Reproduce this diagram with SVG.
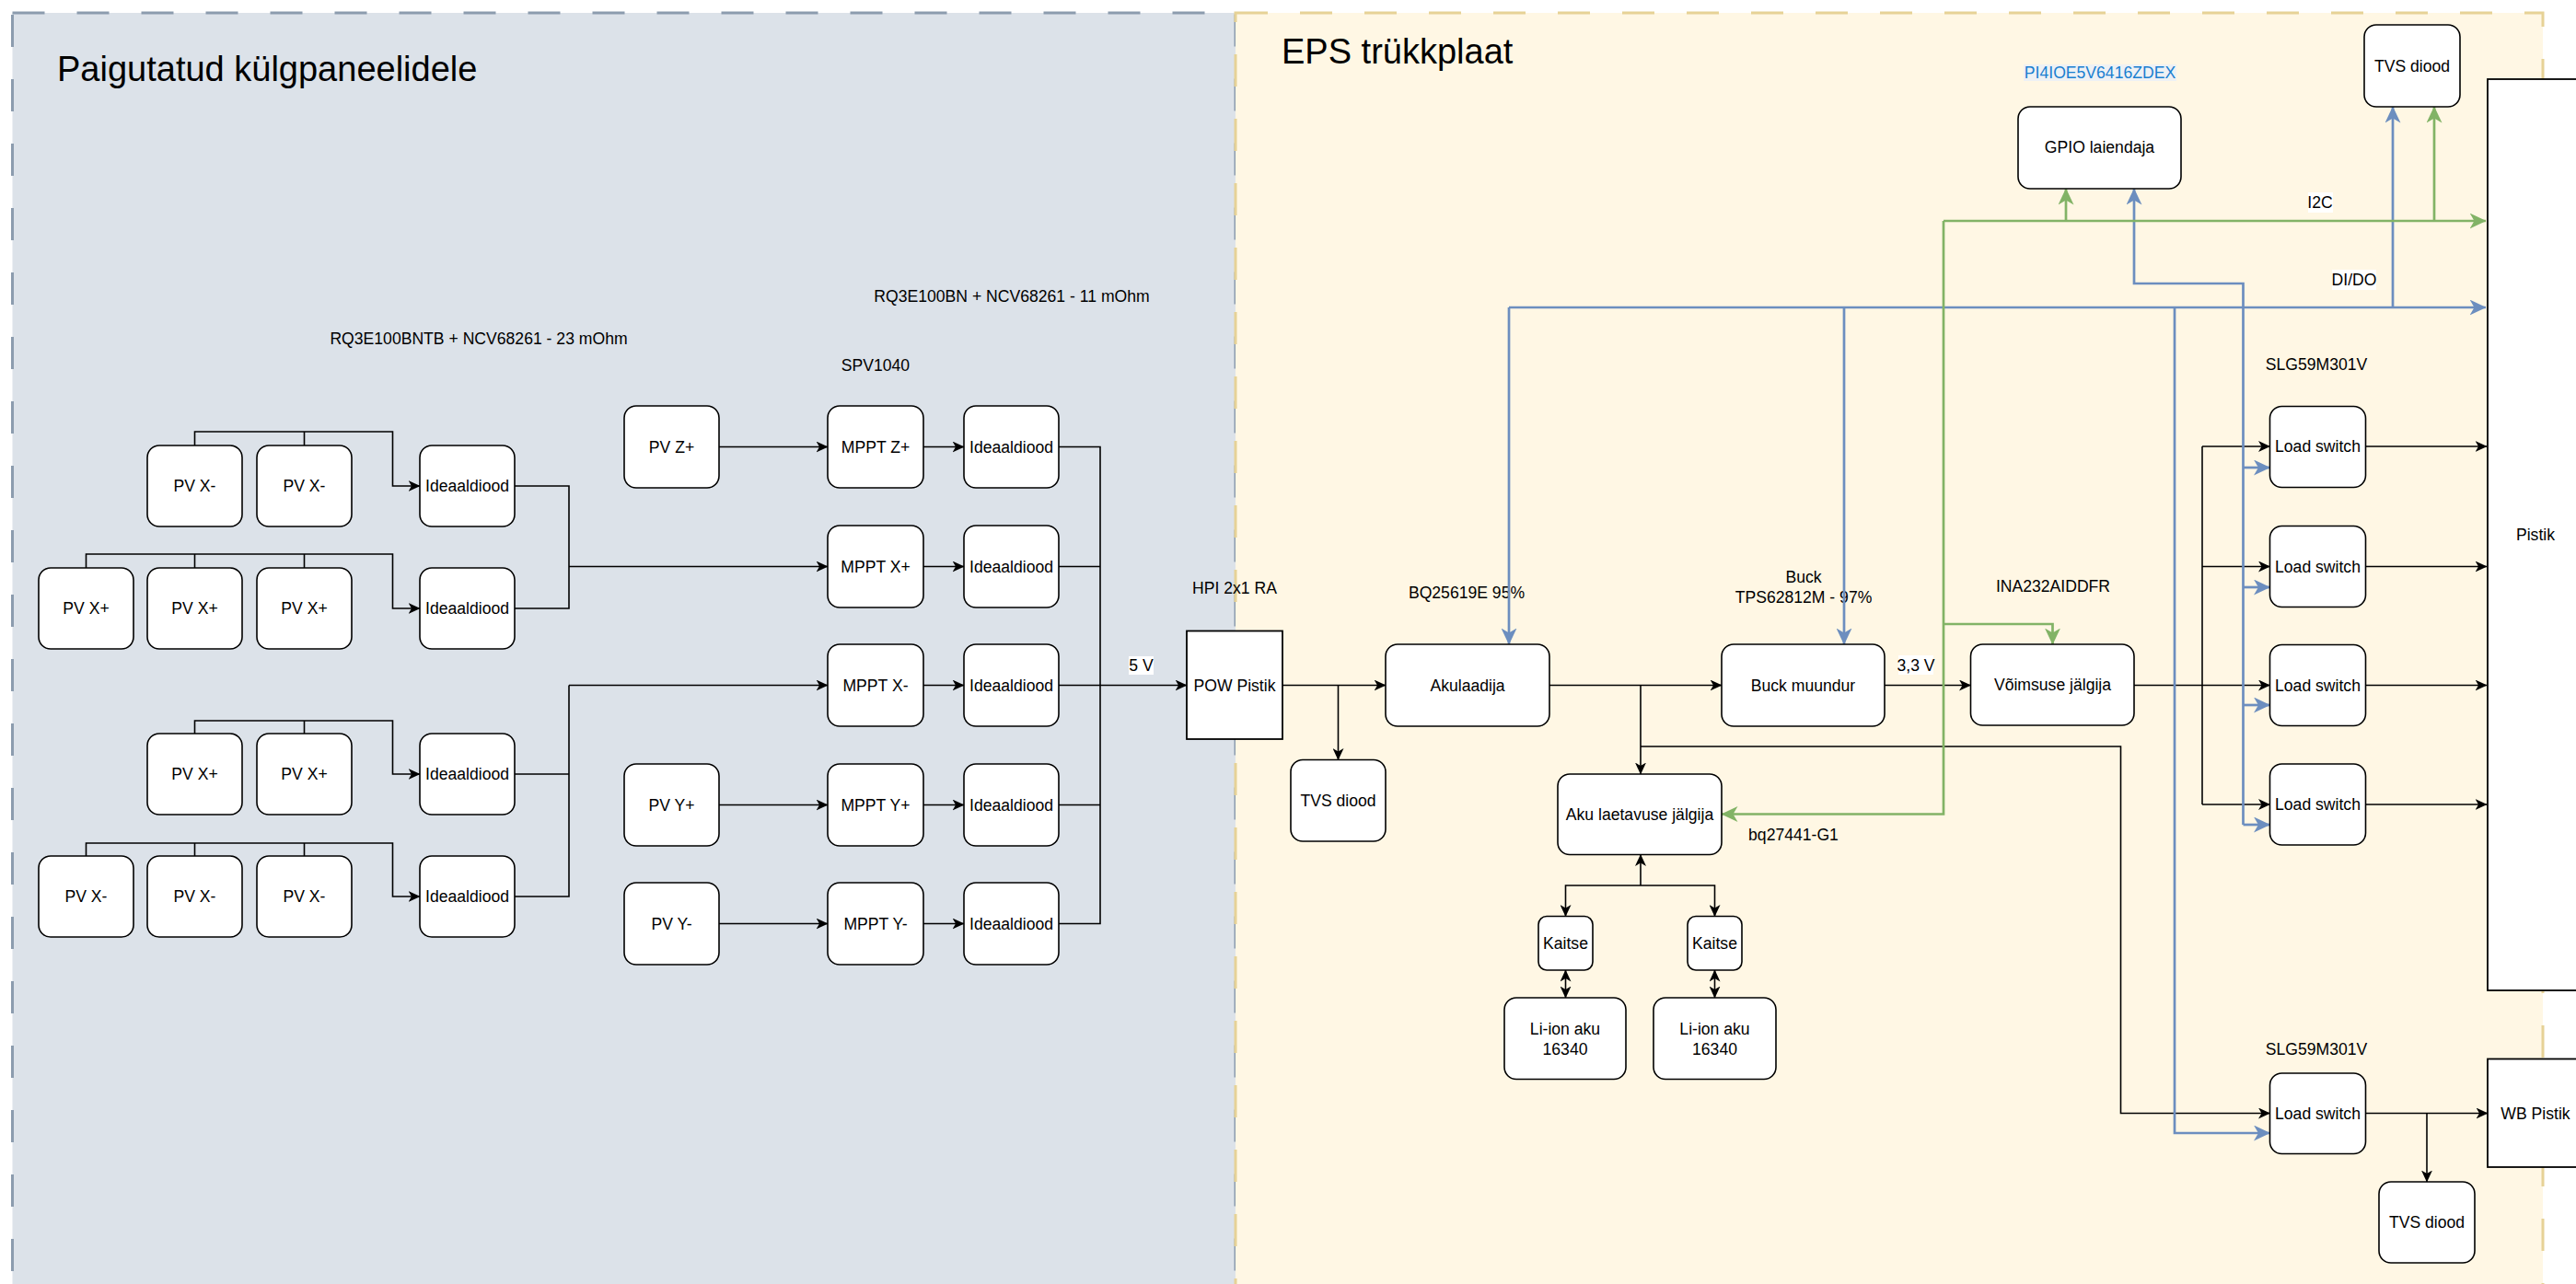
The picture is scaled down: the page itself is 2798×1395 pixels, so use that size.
<svg xmlns="http://www.w3.org/2000/svg" width="2798" height="1395" viewBox="0 0 2798 1395">
  <defs>
    <style>
      text { font-family: "Liberation Sans", Arial, sans-serif; font-size: 17.6px; fill: #000; text-anchor: middle; dominant-baseline: central; }
      .title { font-size: 38px; text-anchor: start; }
      .n { fill: #fff; stroke: #000; stroke-width: 1.6; }
      .sq { fill: #fff; stroke: #000; stroke-width: 1.8; }
      .w { fill: none; stroke: #000; stroke-width: 1.6; }
      .wa { fill: none; stroke: #000; stroke-width: 1.6; marker-end: url(#ak); }
      .bl { fill: none; stroke: #6c8ebf; stroke-width: 2.7; }
      .bla { fill: none; stroke: #6c8ebf; stroke-width: 2.7; marker-end: url(#ab); }
      .gr { fill: none; stroke: #82b366; stroke-width: 2.7; }
      .gra { fill: none; stroke: #82b366; stroke-width: 2.7; marker-end: url(#ag); }
      .lbg { fill: #fff; }
    </style>
    <marker id="ak" viewBox="0 0 13 12" refX="12.5" refY="6" markerWidth="13" markerHeight="12" markerUnits="userSpaceOnUse" orient="auto-start-reverse">
      <path d="M0,0 L13,6 L0,12 L3.5,6 Z" fill="#000"/>
    </marker>
    <marker id="ab" viewBox="0 0 18 17" refX="17.5" refY="8.5" markerWidth="18" markerHeight="17" markerUnits="userSpaceOnUse" orient="auto">
      <path d="M0,0 L18,8.5 L0,17 L5,8.5 Z" fill="#6c8ebf"/>
    </marker>
    <marker id="ag" viewBox="0 0 18 17" refX="17.5" refY="8.5" markerWidth="18" markerHeight="17" markerUnits="userSpaceOnUse" orient="auto">
      <path d="M0,0 L18,8.5 L0,17 L5,8.5 Z" fill="#82b366"/>
    </marker>
  </defs>

  <!-- containers -->
  <g id="side-panels">
    <rect x="13.5" y="14" width="1328.5" height="1420" fill="#dce2e9" stroke="#8c9cae" stroke-width="3" stroke-dasharray="35 35"/>
    <text class="title" x="62" y="75">Paigutatud külgpaneelidele</text>
  </g>
  <g id="eps-board">
    <rect x="1342" y="14" width="1420" height="1420" fill="#fff7e4" stroke="#e6d296" stroke-width="3" stroke-dasharray="35 35"/>
    <text class="title" x="1392" y="56">EPS trükkplaat</text>
  </g>

  <!-- free labels -->
  <g id="labels">
    <text x="1099" y="322">RQ3E100BN + NCV68261 - 11 mOhm</text>
    <text x="520" y="367.5">RQ3E100BNTB + NCV68261 - 23 mOhm</text>
    <text x="951" y="396.5">SPV1040</text>
    <text x="1341" y="639">HPI 2x1 RA</text>
    <text x="1593" y="644">BQ25619E 95%</text>
    <text x="1959" y="627">Buck</text>
    <text x="1959" y="648.5">TPS62812M - 97%</text>
    <text x="2230" y="637">INA232AIDDFR</text>
    <text x="2516" y="396">SLG59M301V</text>
    <text x="2516" y="1140">SLG59M301V</text>
    <text x="1948" y="906.5">bq27441-G1</text>
    <rect x="2198" y="70" width="166" height="18" fill="#eef1f4"/>
    <text x="2281" y="79" style="fill:#1a7fd0">PI4IOE5V6416ZDEX</text>
  </g>

  <!-- connectors -->
  <g id="connectors">
    <!-- panel strings to ideal diodes -->
    <path class="wa" d="M211.5,484 V469 H426.5 V528 H456"/>
    <path class="w" d="M330.5,484 V469"/>
    <path class="wa" d="M93.5,617 V602 H426.5 V661 H456"/>
    <path class="w" d="M211.5,617 V602 M330.5,617 V602"/>
    <path class="wa" d="M211.5,797 V783 H426.5 V841 H456"/>
    <path class="w" d="M330.5,797 V783"/>
    <path class="wa" d="M93.5,930 V916 H426.5 V974 H456"/>
    <path class="w" d="M211.5,930 V916 M330.5,930 V916"/>
    <!-- diode pairs to MPPT X+/X- -->
    <path class="w" d="M559,528 H618 V661 H559"/>
    <path class="wa" d="M618,615.5 H899"/>
    <path class="w" d="M559,841 H618 M559,974 H618 V744.5"/>
    <path class="wa" d="M618,744.5 H899"/>
    <!-- PV to MPPT -->
    <path class="wa" d="M781,485.5 H899"/>
    <path class="wa" d="M781,874.5 H899"/>
    <path class="wa" d="M781,1003.5 H899"/>
    <!-- MPPT to ideal diode -->
    <path class="wa" d="M1003,485.5 H1047"/>
    <path class="wa" d="M1003,615.5 H1047"/>
    <path class="wa" d="M1003,744.5 H1047"/>
    <path class="wa" d="M1003,874.5 H1047"/>
    <path class="wa" d="M1003,1003.5 H1047"/>
    <!-- 5 V collector bus -->
    <path class="w" d="M1150,485.5 H1195 V1003.5 H1150 M1150,615.5 H1195 M1150,874.5 H1195"/>
    <path class="wa" d="M1150,744.5 H1289"/>
    <rect class="lbg" x="1226" y="713" width="27" height="20"/>
    <text x="1239.5" y="723">5 V</text>

    <!-- power path on EPS -->
    <path class="wa" d="M1393,744.5 H1505"/>
    <path class="wa" d="M1453.5,744.5 V825.5"/>
    <path class="wa" d="M1683,744.5 H1870"/>
    <path class="wa" d="M1782,744.5 V841"/>
    <path class="wa" d="M1782,811 H2303.5 V1209.5 H2465.5"/>
    <path class="wa" d="M2047,744.5 H2140.5"/>
    <rect class="lbg" x="2062" y="712" width="38" height="21"/>
    <text x="2081" y="722.5">3,3 V</text>
    <path class="wa" d="M2318,744.5 H2465.5"/>
    <path class="w" d="M2392,485 V874"/>
    <path class="wa" d="M2392,485 H2465.5"/>
    <path class="wa" d="M2392,615.5 H2465.5"/>
    <path class="wa" d="M2392,874 H2465.5"/>
    <path class="wa" d="M2569.5,485 H2701"/>
    <path class="wa" d="M2569.5,615.5 H2701"/>
    <path class="wa" d="M2569.5,744.5 H2701"/>
    <path class="wa" d="M2569.5,874 H2701"/>
    <path class="wa" d="M2569.5,1209.5 H2702"/>
    <path class="wa" d="M2636,1209.5 V1284"/>
    <!-- battery branch -->
    <path class="wa" d="M1782,962 V928.5"/>
    <path class="wa" d="M1782,962 H1700.5 V995.5"/>
    <path class="wa" d="M1782,962 H1862.5 V995.5"/>
    <path class="wa" d="M1700.5,1054 V1084" marker-start="url(#ak)"/>
    <path class="wa" d="M1862.5,1054 V1084" marker-start="url(#ak)"/>

    <!-- DI/DO (blue) -->
    <path class="bla" d="M1639,334 V700"/>
    <path class="bla" d="M1639,334 H2700"/>
    <path class="bla" d="M2003,334 V700"/>
    <path class="bla" d="M2362,334 V1231 H2465.5"/>
    <path class="bla" d="M2599,334 V116"/>
    <path class="bla" d="M2436.5,896 V308 H2318 V205"/>
    <path class="bla" d="M2436.5,508 H2465.5"/>
    <path class="bla" d="M2436.5,638 H2465.5"/>
    <path class="bla" d="M2436.5,766 H2465.5"/>
    <path class="bla" d="M2436.5,896 H2465.5"/>
    <rect class="lbg" x="2533" y="293" width="48" height="22"/>
    <text x="2557" y="304">DI/DO</text>

    <!-- I2C (green) -->
    <path class="gra" d="M2111,240 H2700"/>
    <path class="gra" d="M2111,240 V884.5 H1870"/>
    <path class="gra" d="M2244,240 V205"/>
    <path class="gra" d="M2644,240 V116"/>
    <path class="gra" d="M2111,678 H2229.5 V700"/>
    <rect class="lbg" x="2507" y="209" width="27" height="22"/>
    <text x="2520" y="220">I2C</text>
  </g>

  <!-- side panel nodes -->
  <g id="pv-xm-1a"><rect class="n" x="160" y="484" width="103" height="88" rx="13"/><text x="211.5" y="528">PV X-</text></g>
  <g id="pv-xm-1b"><rect class="n" x="279" y="484" width="103" height="88" rx="13"/><text x="330.5" y="528">PV X-</text></g>
  <g id="ideal-1"><rect class="n" x="456" y="484" width="103" height="88" rx="13"/><text x="507.5" y="528">Ideaaldiood</text></g>
  <g id="pv-xp-2a"><rect class="n" x="42" y="617" width="103" height="88" rx="13"/><text x="93.5" y="661">PV X+</text></g>
  <g id="pv-xp-2b"><rect class="n" x="160" y="617" width="103" height="88" rx="13"/><text x="211.5" y="661">PV X+</text></g>
  <g id="pv-xp-2c"><rect class="n" x="279" y="617" width="103" height="88" rx="13"/><text x="330.5" y="661">PV X+</text></g>
  <g id="ideal-2"><rect class="n" x="456" y="617" width="103" height="88" rx="13"/><text x="507.5" y="661">Ideaaldiood</text></g>
  <g id="pv-xp-3a"><rect class="n" x="160" y="797" width="103" height="88" rx="13"/><text x="211.5" y="841">PV X+</text></g>
  <g id="pv-xp-3b"><rect class="n" x="279" y="797" width="103" height="88" rx="13"/><text x="330.5" y="841">PV X+</text></g>
  <g id="ideal-3"><rect class="n" x="456" y="797" width="103" height="88" rx="13"/><text x="507.5" y="841">Ideaaldiood</text></g>
  <g id="pv-xm-4a"><rect class="n" x="42" y="930" width="103" height="88" rx="13"/><text x="93.5" y="974">PV X-</text></g>
  <g id="pv-xm-4b"><rect class="n" x="160" y="930" width="103" height="88" rx="13"/><text x="211.5" y="974">PV X-</text></g>
  <g id="pv-xm-4c"><rect class="n" x="279" y="930" width="103" height="88" rx="13"/><text x="330.5" y="974">PV X-</text></g>
  <g id="ideal-4"><rect class="n" x="456" y="930" width="103" height="88" rx="13"/><text x="507.5" y="974">Ideaaldiood</text></g>

  <g id="pv-zp"><rect class="n" x="678" y="441" width="103" height="89" rx="13"/><text x="729.5" y="485.5">PV Z+</text></g>
  <g id="mppt-zp"><rect class="n" x="899" y="441" width="104" height="89" rx="13"/><text x="951" y="485.5">MPPT Z+</text></g>
  <g id="ideal-zp"><rect class="n" x="1047" y="441" width="103" height="89" rx="13"/><text x="1098.5" y="485.5">Ideaaldiood</text></g>
  <g id="mppt-xp"><rect class="n" x="899" y="571" width="104" height="89" rx="13"/><text x="951" y="615.5">MPPT X+</text></g>
  <g id="ideal-xp"><rect class="n" x="1047" y="571" width="103" height="89" rx="13"/><text x="1098.5" y="615.5">Ideaaldiood</text></g>
  <g id="mppt-xm"><rect class="n" x="899" y="700" width="104" height="89" rx="13"/><text x="951" y="744.5">MPPT X-</text></g>
  <g id="ideal-xm"><rect class="n" x="1047" y="700" width="103" height="89" rx="13"/><text x="1098.5" y="744.5">Ideaaldiood</text></g>
  <g id="pv-yp"><rect class="n" x="678" y="830" width="103" height="89" rx="13"/><text x="729.5" y="874.5">PV Y+</text></g>
  <g id="mppt-yp"><rect class="n" x="899" y="830" width="104" height="89" rx="13"/><text x="951" y="874.5">MPPT Y+</text></g>
  <g id="ideal-yp"><rect class="n" x="1047" y="830" width="103" height="89" rx="13"/><text x="1098.5" y="874.5">Ideaaldiood</text></g>
  <g id="pv-ym"><rect class="n" x="678" y="959" width="103" height="89" rx="13"/><text x="729.5" y="1003.5">PV Y-</text></g>
  <g id="mppt-ym"><rect class="n" x="899" y="959" width="104" height="89" rx="13"/><text x="951" y="1003.5">MPPT Y-</text></g>
  <g id="ideal-ym"><rect class="n" x="1047" y="959" width="103" height="89" rx="13"/><text x="1098.5" y="1003.5">Ideaaldiood</text></g>

  <!-- EPS board nodes -->
  <g id="pow-pistik"><rect class="sq" x="1289" y="685.5" width="104" height="117.5"/><text x="1341" y="744.5">POW Pistik</text></g>
  <g id="tvs-in"><rect class="n" x="1402" y="825.5" width="103" height="88.5" rx="13"/><text x="1453.5" y="870">TVS diood</text></g>
  <g id="akulaadija"><rect class="n" x="1505" y="700" width="178" height="89" rx="13"/><text x="1594" y="744.5">Akulaadija</text></g>
  <g id="buck"><rect class="n" x="1870" y="700" width="177" height="89" rx="13"/><text x="1958.5" y="744.5">Buck muundur</text></g>
  <g id="voimsus"><rect class="n" x="2140.5" y="700" width="177.5" height="88" rx="13"/><text x="2229.5" y="744">Võimsuse jälgija</text></g>
  <g id="aku-jalgija"><rect class="n" x="1692" y="841" width="178" height="87.5" rx="13"/><text x="1781" y="884.5">Aku laetavuse jälgija</text></g>
  <g id="kaitse-1"><rect class="n" x="1671" y="995.5" width="59" height="58.5" rx="9"/><text x="1700.5" y="1024.5">Kaitse</text></g>
  <g id="kaitse-2"><rect class="n" x="1833" y="995.5" width="59" height="58.5" rx="9"/><text x="1862.5" y="1024.5">Kaitse</text></g>
  <g id="liion-1"><rect class="n" x="1634" y="1084" width="132" height="88.5" rx="13"/><text x="1700" y="1117.5">Li-ion aku</text><text x="1700" y="1139.5">16340</text></g>
  <g id="liion-2"><rect class="n" x="1796" y="1084" width="133" height="88.5" rx="13"/><text x="1862.5" y="1117.5">Li-ion aku</text><text x="1862.5" y="1139.5">16340</text></g>
  <g id="gpio"><rect class="n" x="2192" y="116" width="177" height="89" rx="13"/><text x="2280.5" y="160">GPIO laiendaja</text></g>
  <g id="tvs-top"><rect class="n" x="2568" y="27" width="104" height="89" rx="13"/><text x="2620" y="71.5">TVS diood</text></g>
  <g id="ls-1"><rect class="n" x="2465.5" y="441.5" width="104" height="88" rx="13"/><text x="2517.5" y="485">Load switch</text></g>
  <g id="ls-2"><rect class="n" x="2465.5" y="571.5" width="104" height="88" rx="13"/><text x="2517.5" y="615.5">Load switch</text></g>
  <g id="ls-3"><rect class="n" x="2465.5" y="700.5" width="104" height="88" rx="13"/><text x="2517.5" y="744.5">Load switch</text></g>
  <g id="ls-4"><rect class="n" x="2465.5" y="830" width="104" height="88" rx="13"/><text x="2517.5" y="874">Load switch</text></g>
  <g id="ls-5"><rect class="n" x="2465.5" y="1166" width="104" height="87.5" rx="13"/><text x="2517.5" y="1209.5">Load switch</text></g>
  <g id="tvs-wb"><rect class="n" x="2584" y="1284" width="104" height="88" rx="13"/><text x="2636" y="1328">TVS diood</text></g>
  <g id="pistik"><rect class="sq" x="2702" y="86" width="104" height="990"/><text x="2754" y="581">Pistik</text></g>
  <g id="wb-pistik"><rect class="sq" x="2702" y="1150.5" width="104" height="117.5"/><text x="2754" y="1209.5">WB Pistik</text></g>
</svg>
